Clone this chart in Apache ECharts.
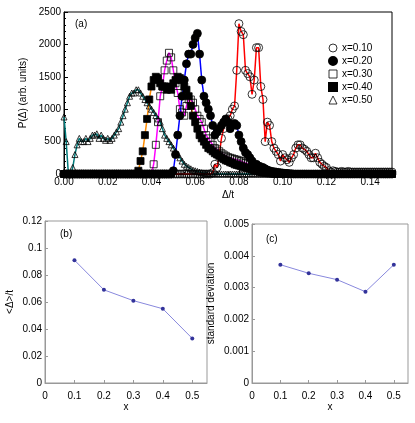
<!DOCTYPE html>
<html><head><meta charset="utf-8">
<script src="https://cdn.jsdelivr.net/npm/echarts@6/dist/echarts.min.js"></script>
<style>html,body{margin:0;padding:0;background:#fff}#main{width:415px;height:423px}</style>
</head><body><div id="main"></div>
<script>
// panel (a): values every 0.001 starting at the given delta, zero elsewhere
var dStep = 0.001;
var x10Start = 0.068;
var x10 = [20,150,100,300,550,700,800,850,900,1000,1050,1600,2320,2200,2150,1600,1550,1500,1230,1450,1950,1950,1350,1150,500,800,750,500,400,350,300,200,300,250,220,180,250,300,400,450,450,400,380,350,300,250,250,320,250,180,150,120,100,50,30,50,40,30,30,40,30,30,40,30,30,30,30,30,30,30,30,30,30,30,30,30,30,30,30,30,30,30,30];
var x20Start = 0.049;
var x20 = [0,50,300,600,900,1200,1450,1700,1850,1850,2000,2100,2170,1850,1450,1200,1100,1000,900,750,600,650,700,750,800,850,800,700,750,780,750,600,500,400,330,300,250,200,150,150,120,100,100,80,60,50,40,35,30,25,20,15,10,10,5,5];
var x30Start = 0.040;
var x30 = [0,150,450,800,1200,1350,1600,1750,1870,1800,1600,1400,1250,1000,950,900,1050,1150,1150,1100,1000,900,850,800,700,600,550,500,450,400,380,350,320,300,280,260,250,240,230,220,210,200,180,170,160,150,150,140,130,120,100,80,60,40,30,20,10];
var x40Start = 0.033;
var x40 = [0,50,200,350,600,850,1150,1350,1450,1500,1480,1400,1350,1350,1300,1350,1300,1400,1450,1500,1480,1450,1350,1300,1200,1050,900,800,700,600,550,500,450,400,380,350,320,300,280,250,230,210,200,180,170,150,140,130,120,110,100,90,80,70,60,50,40,30,25,20,15,10,10,5,5];
var x50Start = 0.000;
var x50 = [880,500,0,0,100,300,450,550,500,500,550,500,550,600,600,620,550,600,550,520,550,520,550,600,650,700,800,900,1000,1100,1200,1250,1250,1300,1300,1250,1200,1150,1100,1050,1000,950,900,850,800,700,600,550,500,450,400,350,300,250,200,150,120,100,80,60,50,40,30,20,15,10,5,5,0,0,0];

// panels (b) and (c)
var xs = [0.1, 0.2, 0.3, 0.4, 0.5];
var meanGap = [0.091, 0.069, 0.061, 0.055, 0.033];
var stdDev = [0.00372, 0.00345, 0.00325, 0.00287, 0.00372];

function toPairs(start, vals) {
    var out = [];
    var n = Math.round(0.15 / dStep);
    var s = Math.round(start / dStep);
    for (var i = 0; i <= n; i++) {
        var k = i - s;
        var v = (k >= 0 && k < vals.length) ? vals[k] : 0;
        out.push([+(i * dStep).toFixed(3), v]);
    }
    return out;
}

var font = 'Liberation Sans';
var lbl = {fontFamily: font, fontSize: 10, color: '#000'};

function distSeries(name, start, vals, lineColor, symbol, filled, size) {
    return {
        name: name, type: 'line', xAxisIndex: 0, yAxisIndex: 0,
        data: toPairs(start, vals), symbol: symbol, symbolSize: size,
        lineStyle: {color: lineColor, width: 1.5},
        itemStyle: {color: filled ? '#000' : 'rgba(255,255,255,0)', borderColor: '#000', borderWidth: 0.8},
        z: 2
    };
}

var myChart = echarts.init(document.getElementById('main'));
var option = {
    animation: false,
    textStyle: {fontFamily: font},
    grid: [
        {left: 64, right: 23, top: 12, bottom: 249, show: true, borderColor: '#000', borderWidth: 1},
        {left: 45, width: 162, top: 221, bottom: 40, show: true, borderColor: '#999', borderWidth: 1},
        {left: 252, width: 156, top: 224, bottom: 40, show: true, borderColor: '#999', borderWidth: 1}
    ],
    legend: {
        orient: 'vertical', left: 323, top: 38, itemGap: 3, itemWidth: 8, itemHeight: 8,
        textStyle: {fontFamily: font, fontSize: 10, color: '#000'},
        data: [
            {name: 'x=0.10', icon: 'circle', itemStyle: {color: '#fff', borderColor: '#000', borderWidth: 0.8}},
            {name: 'x=0.20', icon: 'circle', itemStyle: {color: '#000'}},
            {name: 'x=0.30', icon: 'rect', itemStyle: {color: '#fff', borderColor: '#000', borderWidth: 0.8}},
            {name: 'x=0.40', icon: 'rect', itemStyle: {color: '#000'}},
            {name: 'x=0.50', icon: 'triangle', itemStyle: {color: '#fff', borderColor: '#000', borderWidth: 0.8}}
        ]
    },
    xAxis: [
        {gridIndex: 0, type: 'value', min: 0, max: 0.15, interval: 0.02,
         name: 'Δ/t', nameLocation: 'middle', nameGap: 16, nameTextStyle: lbl,
         axisLine: {lineStyle: {color: '#000'}}, axisTick: {inside: true, length: 4},
         minorTick: {show: true, splitNumber: 4, length: 2}, splitLine: {show: false},
         axisLabel: {fontFamily: font, fontSize: 10, color: '#000', margin: 3, showMaxLabel: false,
                     formatter: function (v) { return v.toFixed(2); }}},
        {gridIndex: 1, type: 'value', min: 0, max: 0.55, interval: 0.1,
         name: 'x', nameLocation: 'middle', nameGap: 18, nameTextStyle: lbl,
         axisLine: {lineStyle: {color: '#999'}}, axisTick: {inside: true, length: 3},
         splitLine: {show: false}, axisLabel: lbl},
        {gridIndex: 2, type: 'value', min: 0, max: 0.55, interval: 0.1,
         name: 'x', nameLocation: 'middle', nameGap: 18, nameTextStyle: lbl,
         axisLine: {lineStyle: {color: '#999'}}, axisTick: {inside: true, length: 3},
         splitLine: {show: false}, axisLabel: lbl}
    ],
    yAxis: [
        {gridIndex: 0, type: 'value', min: 0, max: 2500, interval: 500,
         name: 'P(Δ) (arb. units)', nameLocation: 'middle', nameGap: 34, nameTextStyle: lbl,
         axisLine: {lineStyle: {color: '#000'}}, axisTick: {inside: true, length: 4},
         minorTick: {show: true, splitNumber: 5, length: 2}, splitLine: {show: false},
         axisLabel: {fontFamily: font, fontSize: 10, color: '#000', margin: 3,
                     formatter: function (v) { return String(v); }}},
        {gridIndex: 1, type: 'value', min: 0, max: 0.12, interval: 0.02,
         name: '<Δ>/t', nameLocation: 'middle', nameGap: 30, nameTextStyle: lbl,
         axisLine: {lineStyle: {color: '#999'}}, axisTick: {inside: true, length: 3},
         splitLine: {show: false}, axisLabel: {fontFamily: font, fontSize: 10, color: '#000', margin: 3}},
        {gridIndex: 2, type: 'value', min: 0, max: 0.005, interval: 0.001,
         name: 'standard deviation', nameLocation: 'middle', nameGap: 36, nameTextStyle: lbl,
         axisLine: {lineStyle: {color: '#999'}}, axisTick: {inside: true, length: 3},
         splitLine: {show: false}, axisLabel: {fontFamily: font, fontSize: 10, color: '#000', margin: 3}}
    ],
    graphic: [
        {type: 'text', left: 75, top: 19, style: {text: '(a)', font: '10px Liberation Sans', fill: '#000'}},
        {type: 'text', left: 60, top: 229, style: {text: '(b)', font: '10px Liberation Sans', fill: '#000'}},
        {type: 'text', left: 266, top: 234, style: {text: '(c)', font: '10px Liberation Sans', fill: '#000'}}
    ],
    series: [
        distSeries('x=0.50', x50Start, x50, '#007a7a', 'triangle', false, 6),
        distSeries('x=0.40', x40Start, x40, '#ff8c00', 'rect', true, 7),
        distSeries('x=0.30', x30Start, x30, '#ff00ff', 'rect', false, 7),
        distSeries('x=0.20', x20Start, x20, '#0000ff', 'circle', true, 8),
        distSeries('x=0.10', x10Start, x10, '#ff0000', 'circle', false, 8),
        {type: 'line', xAxisIndex: 1, yAxisIndex: 1, data: xs.map(function (x, i) { return [x, meanGap[i]]; }),
         symbol: 'circle', symbolSize: 4, lineStyle: {color: '#8888dd', width: 1}, itemStyle: {color: '#33339a'}},
        {type: 'line', xAxisIndex: 2, yAxisIndex: 2, data: xs.map(function (x, i) { return [x, stdDev[i]]; }),
         symbol: 'circle', symbolSize: 4, lineStyle: {color: '#8888dd', width: 1}, itemStyle: {color: '#33339a'}}
    ]
};
myChart.setOption(option);
</script>
</body></html>
